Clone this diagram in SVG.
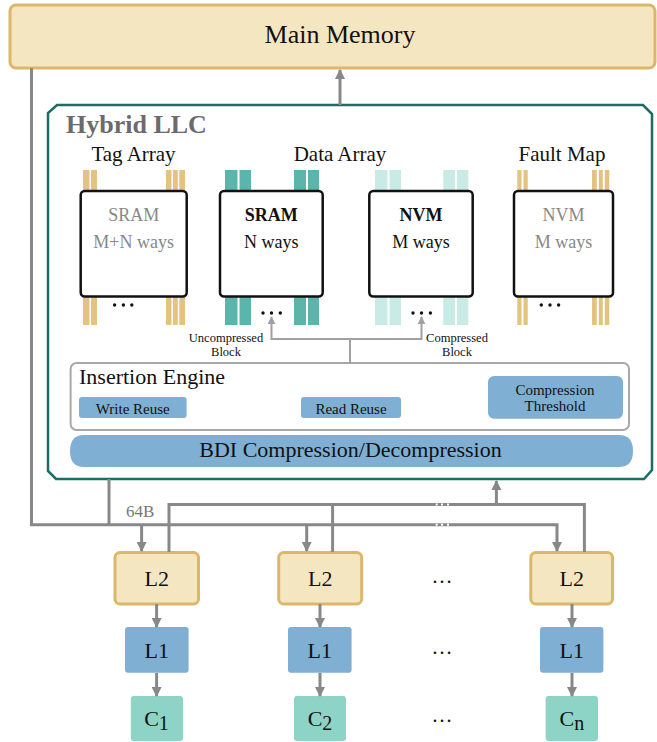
<svg xmlns="http://www.w3.org/2000/svg" width="657" height="742" viewBox="0 0 657 742">
<defs>
<marker id="ah" viewBox="0 0 10 10" refX="9" refY="5" markerWidth="10" markerHeight="10" markerUnits="userSpaceOnUse" orient="auto"><path d="M0,0 L10,5 L0,10 z" fill="#888"/></marker>
<marker id="ahl" viewBox="0 0 10 10" refX="9" refY="5" markerWidth="8" markerHeight="8" markerUnits="userSpaceOnUse" orient="auto"><path d="M0,0 L10,5 L0,10 z" fill="#a0a0a0"/></marker>
</defs>
<style>
text{font-family:"Liberation Serif","Times New Roman",serif;fill:#111}
.t{font-size:21px;text-anchor:middle}
.box{fill:#fff;stroke:#111;stroke-width:2.5}
.bl{font-size:18px;text-anchor:middle}
.gr{fill:#888}
.b{font-weight:bold}
.tagc{fill:#e3c37f}
.src{fill:#5bb5aa}
.nvc{fill:#c8ebe5}
.sep{fill:#fff}
.dot{fill:#111}
.blue{fill:#7fafd3}
.l2{fill:#f5e6c2;stroke:#dcb76a;stroke-width:3}
.l1{fill:#7fafd3}
.cc{fill:#8dd4c6}
.conn{fill:none;stroke:#888;stroke-width:3}
.connl{fill:none;stroke:#a0a0a0;stroke-width:2}
.sm{font-size:15px;text-anchor:middle}
.xs{font-size:12.5px;text-anchor:middle}
.nm{font-size:22px;text-anchor:middle}
.el{font-size:21px;text-anchor:middle}
</style>

<g id="main-memory">
<rect x="10" y="5" width="645" height="63" rx="6" fill="#f5e6c2" stroke="#dcb76a" stroke-width="3"/>
<text x="340" y="43" font-size="26" text-anchor="middle">Main Memory</text>
</g>

<g id="hybrid-llc">
<polygon points="57,105 643,105 652,114 652,470 644,479 56,479 48,471 48,113" fill="#fff" stroke="#1a6e64" stroke-width="2.5"/>
<text x="66" y="133" font-size="26" font-weight="bold" style="fill:#6b6b6b">Hybrid LLC</text>
</g>

<g id="labels">
<text class="t" x="133.5" y="161">Tag Array</text>
<text class="t" x="340" y="161">Data Array</text>
<text class="t" x="562" y="161">Fault Map</text>
</g>

<g id="tag-array">
<rect class="tagc" x="83" y="170" width="14" height="155"/>
<rect class="tagc" x="166" y="170" width="19" height="155"/>
<rect class="sep" x="89.5" y="170" width="1.5" height="155"/>
<rect class="sep" x="171.5" y="170" width="1.5" height="155"/>
<rect class="sep" x="177.8" y="170" width="1.5" height="155"/>
<rect class="box" x="80.7" y="191" width="106" height="105.5" rx="4"/>
<text class="bl gr" x="133.7" y="221">SRAM</text>
<text class="bl gr" x="133.7" y="248">M+N ways</text>
<circle class="dot" cx="114.6" cy="305" r="1.7"/><circle class="dot" cx="123.4" cy="305" r="1.7"/><circle class="dot" cx="131.8" cy="305" r="1.7"/>
</g>

<g id="data-sram">
<rect class="src" x="225" y="170" width="26" height="155"/>
<rect class="src" x="294" y="170" width="25" height="155"/>
<rect class="sep" x="237.5" y="170" width="2" height="155"/>
<rect class="sep" x="306" y="170" width="2" height="155"/>
<rect class="box" x="220" y="191" width="102.7" height="105.5" rx="4"/>
<text class="bl b" x="271.3" y="221">SRAM</text>
<text class="bl" x="271.3" y="248">N ways</text>
<circle class="dot" cx="263" cy="313" r="1.7"/><circle class="dot" cx="271.5" cy="313" r="1.7"/><circle class="dot" cx="280.3" cy="313" r="1.7"/>
</g>

<g id="data-nvm">
<rect class="nvc" x="375" y="170" width="26" height="155"/>
<rect class="nvc" x="443.3" y="170" width="25" height="155"/>
<rect class="sep" x="387.5" y="170" width="2" height="155"/>
<rect class="sep" x="455" y="170" width="2" height="155"/>
<rect class="box" x="369.3" y="191" width="103.4" height="105.5" rx="4"/>
<text class="bl b" x="421" y="221">NVM</text>
<text class="bl" x="421" y="248">M ways</text>
<circle class="dot" cx="413" cy="313" r="1.7"/><circle class="dot" cx="421.5" cy="313" r="1.7"/><circle class="dot" cx="430.4" cy="313" r="1.7"/>
</g>

<g id="fault-map">
<rect class="tagc" x="517.3" y="170" width="10.4" height="155"/>
<rect class="tagc" x="592" y="170" width="17.3" height="155"/>
<rect class="sep" x="521.5" y="170" width="2" height="155"/>
<rect class="sep" x="596.8" y="170" width="2" height="155"/>
<rect class="sep" x="602.8" y="170" width="2" height="155"/>
<rect class="box" x="514" y="191" width="99" height="105.5" rx="4"/>
<text class="bl gr" x="563.5" y="221">NVM</text>
<text class="bl gr" x="563.5" y="248">M ways</text>
<circle class="dot" cx="541.3" cy="305" r="1.7"/><circle class="dot" cx="550" cy="305" r="1.7"/><circle class="dot" cx="558.6" cy="305" r="1.7"/>
</g>

<g id="insertion-engine">
<rect x="70.6" y="363" width="558.4" height="67" rx="6" fill="#fff" stroke="#a8a8a8" stroke-width="2"/>
<text x="79" y="384" font-size="22">Insertion Engine</text>
</g>
<g id="write-reuse">
<rect class="blue" x="79" y="397" width="107.6" height="21" rx="3"/>
<text class="sm" x="132.8" y="413.5">Write Reuse</text>
</g>
<g id="read-reuse">
<rect class="blue" x="301" y="397" width="100" height="21" rx="3"/>
<text class="sm" x="351" y="413.5">Read Reuse</text>
</g>
<g id="compression-threshold">
<rect class="blue" x="488" y="376" width="135" height="42.7" rx="6"/>
<text class="sm" x="555" y="394.5">Compression</text>
<text class="sm" x="555" y="410.5">Threshold</text>
</g>

<g id="bdi">
<path class="blue" d="M84,435 H619 Q633,435 633,451 Q633,467 619,467 H84 Q70,467 70,451 Q70,435 84,435 Z"/>
<text class="nm" x="350.5" y="457">BDI Compression/Decompression</text>
</g>

<g id="l2-1"><rect class="l2" x="115" y="552.5" width="83.5" height="51.5" rx="5"/><text class="nm" x="156.7" y="586">L2</text></g>
<g id="l2-2"><rect class="l2" x="278.7" y="552.5" width="83" height="51.5" rx="5"/><text class="nm" x="320.2" y="586">L2</text></g>
<g id="l2-n"><rect class="l2" x="530.8" y="552.5" width="81.7" height="51.5" rx="5"/><text class="nm" x="571.7" y="586">L2</text></g>

<g id="l1-1"><rect class="l1" x="125" y="627" width="63.6" height="45.7" rx="3"/><text class="nm" x="156.8" y="658">L1</text></g>
<g id="l1-2"><rect class="l1" x="288" y="627" width="63.6" height="45.7" rx="3"/><text class="nm" x="319.8" y="658">L1</text></g>
<g id="l1-n"><rect class="l1" x="540" y="627" width="63.4" height="45.7" rx="3"/><text class="nm" x="571.7" y="658">L1</text></g>

<g id="c-1"><rect class="cc" x="130.8" y="696" width="52.2" height="45" rx="3"/><text class="nm" x="156.5" y="726">C<tspan font-size="20" dy="4">1</tspan></text></g>
<g id="c-2"><rect class="cc" x="294" y="696" width="52" height="45" rx="3"/><text class="nm" x="320" y="726">C<tspan font-size="20" dy="4">2</tspan></text></g>
<g id="c-n"><rect class="cc" x="545.6" y="696" width="52.4" height="45" rx="3"/><text class="nm" x="571.8" y="726">C<tspan font-size="20" dy="4">n</tspan></text></g>

<g id="ellipses">
<text class="el" x="442" y="583">…</text>
<text class="el" x="442" y="654">…</text>
<text class="el" x="442" y="722">…</text>
</g>

<g id="connectors">
<line class="conn" x1="340" y1="105" x2="340" y2="70" marker-end="url(#ah)"/>
<polyline class="conn" points="31.5,68 31.5,524.7 557,524.7 557,551" marker-end="url(#ah)"/>
<line class="conn" x1="109" y1="479" x2="109" y2="524.7"/>
<line class="conn" x1="141.6" y1="524.7" x2="141.6" y2="551" marker-end="url(#ah)"/>
<line class="conn" x1="306.7" y1="524.7" x2="306.7" y2="551" marker-end="url(#ah)"/>
<polyline class="conn" points="169,552 169,504.5 584.4,504.5 584.4,552"/>
<line class="conn" x1="332.6" y1="552" x2="332.6" y2="504.5"/>
<line class="conn" x1="496.4" y1="504.5" x2="496.4" y2="481" marker-end="url(#ah)"/>
<g fill="#fff">
<rect x="435.7" y="503.5" width="2" height="2"/><rect x="441" y="503.5" width="2" height="2"/><rect x="447" y="503.5" width="2" height="2"/>
<rect x="435.7" y="523.7" width="2" height="2"/><rect x="441" y="523.7" width="2" height="2"/><rect x="447" y="523.7" width="2" height="2"/>
</g>
<line class="conn" x1="156.6" y1="604" x2="156.6" y2="627" marker-end="url(#ah)"/>
<line class="conn" x1="320" y1="604" x2="320" y2="627" marker-end="url(#ah)"/>
<line class="conn" x1="572" y1="604" x2="572" y2="627" marker-end="url(#ah)"/>
<line class="conn" x1="156.6" y1="673" x2="156.6" y2="696" marker-end="url(#ah)"/>
<line class="conn" x1="320" y1="673" x2="320" y2="696" marker-end="url(#ah)"/>
<line class="conn" x1="572" y1="673" x2="572" y2="696" marker-end="url(#ah)"/>
<polyline class="connl" points="350,363 350,339 271.5,339 271.5,317" marker-end="url(#ahl)"/>
<polyline class="connl" points="350,339 421.5,339 421.5,317" marker-end="url(#ahl)"/>
</g>

<g id="connector-labels">
<text class="xs" x="226" y="342">Uncompressed</text>
<text class="xs" x="226" y="356">Block</text>
<text class="xs" x="457" y="342">Compressed</text>
<text class="xs" x="457" y="356">Block</text>
<text x="126" y="517" font-size="17" style="fill:#777">64B</text>
</g>
</svg>
